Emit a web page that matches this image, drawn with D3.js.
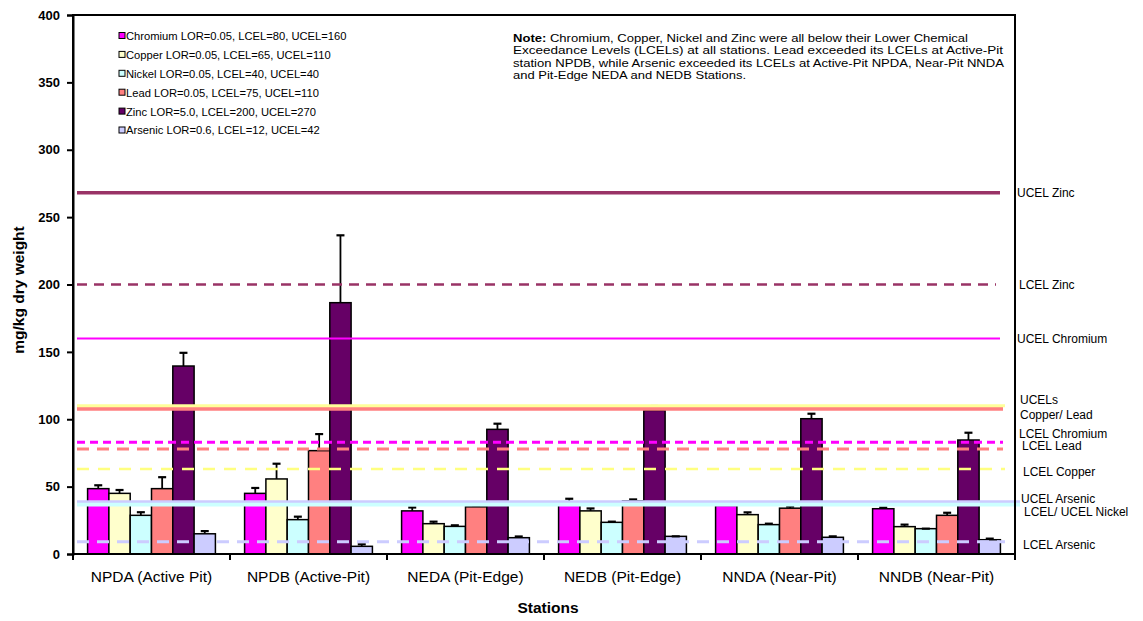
<!DOCTYPE html>
<html>
<head>
<meta charset="utf-8">
<script src="https://cdn.jsdelivr.net/npm/d3@7"></script>
<style>
  body { margin: 0; background: #fff; }
  text { font-family: Arial, 'Liberation Sans', sans-serif; fill: #000; }
</style>
</head>
<body>
<div class="chart-node"></div>
<script>
const width = 1143, height = 621

// data
const stations = ['NPDA (Active Pit)', 'NPDB (Active-Pit)', 'NEDA (Pit-Edge)', 'NEDB (Pit-Edge)', 'NNDA (Near-Pit)', 'NNDB (Near-Pit)']
const metals = ['Chromium', 'Copper', 'Nickel', 'Lead', 'Zinc', 'Arsenic']
const legendLabels = [
    'Chromium LOR=0.05, LCEL=80, UCEL=160',
    'Copper LOR=0.05, LCEL=65, UCEL=110',
    'Nickel LOR=0.05, LCEL=40, UCEL=40',
    'Lead LOR=0.05, LCEL=75, UCEL=110',
    'Zinc LOR=5.0, LCEL=200, UCEL=270',
    'Arsenic LOR=0.6, LCEL=12, UCEL=42'
]
const chromium = [48.5, 45, 32, 38, 36, 33.6]
const copper = [45, 55.7, 22.5, 32, 29.2, 20.3]
const nickel = [28.7, 25.5, 20.5, 23.5, 21.8, 18.8]
const lead = [48.5, 76.7, 35, 39.5, 34, 28.7]
const zinc = [139.5, 186.5, 92.5, 106.6, 100.4, 84.6]
const arsenic = [15, 5.7, 12.1, 13.1, 12.4, 10.6]
const chromiumErr = [2.5, 4, 2.5, 3, 1, 0.8]
const copperErr = [2.5, 11.3, 1.5, 1.8, 1.7, 1.5]
const nickelErr = [2.3, 2.2, 0.8, 0.5, 0.7, 0]
const leadErr = [8.5, 12.3, 0.7, 1, 1.2, 1.9]
const zincErr = [9.8, 50, 4.2, 3.2, 3.7, 5.4]
const arsenicErr = [2, 1.5, 0.9, 0, 0.7, 0.8]
const yTicks = [0, 50, 100, 150, 200, 250, 300, 350, 400]

// guideline levels (as drawn) and their right-hand labels
const guideNames = ['UCEL Zinc', 'LCEL Zinc', 'UCEL Chromium', 'UCEL Lead', 'UCEL Copper', 'LCEL Chromium', 'LCEL Lead', 'LCEL Copper', 'LCEL/UCEL Nickel', 'UCEL Arsenic', 'LCEL Arsenic']
const guideValues = [268, 200, 160, 107.8, 110, 83, 78, 63, 37, 39, 9]
const guideLabels = ['UCEL Zinc', 'LCEL Zinc', 'UCEL Chromium', 'UCELs', 'Copper/ Lead', 'LCEL Chromium', 'LCEL Lead', 'LCEL Copper', 'UCEL Arsenic', 'LCEL/ UCEL Nickel', 'LCEL Arsenic']
const guideLabelValues = [268, 200, 160, 114.5, 103.5, 89.5, 80, 61, 40.8, 31.2, 6.8]

const noteLines = [
    ['Note:', ' Chromium, Copper, Nickel and Zinc were all below their Lower Chemical'],
    ['', 'Exceedance Levels (LCELs) at all stations.  Lead exceeded its LCELs at Active-Pit'],
    ['', 'station NPDB, while Arsenic exceeded its LCELs at Active-Pit NPDA, Near-Pit NNDA'],
    ['', 'and Pit-Edge NEDA and NEDB Stations.']
]
const noteWidths = [455, 490, 491, 233]

const series = [chromium, copper, nickel, lead, zinc, arsenic]
const errors = [chromiumErr, copperErr, nickelErr, leadErr, zincErr, arsenicErr]
const colors = ['#FF00FF', '#FFFFCC', '#CCFFFF', '#FF8080', '#660066', '#CCCCFF']

const guideStyle = {
    'UCEL Zinc':        { color: '#993366', w: 3.5, dash: null, x2: 1000 },
    'LCEL Zinc':        { color: '#993366', w: 2.5, dash: '10,7', x2: 996 },
    'UCEL Chromium':    { color: '#FF00FF', w: 2, dash: null, x2: 1000 },
    'UCEL Lead':        { color: '#FF8080', w: 4, dash: null, x2: 1003 },
    'UCEL Copper':      { color: '#FFFF99', w: 3, dash: null, x2: 1005 },
    'LCEL Chromium':    { color: '#FF00FF', w: 3, dash: '8,5', x2: 1003 },
    'LCEL Lead':        { color: '#FF8080', w: 3, dash: '12,8', x2: 1003 },
    'LCEL Copper':      { color: '#FFFF80', w: 2.5, dash: '12,9', x2: 1005 },
    'LCEL/UCEL Nickel': { color: '#CCFFFF', w: 4.5, dash: null, x2: 1020 },
    'UCEL Arsenic':     { color: '#CCCCFF', w: 2.5, dash: null, x2: 1020 },
    'LCEL Arsenic':     { color: '#CCCCFF', w: 3, dash: '12,8', x2: 1005 }
}

const margin = { left: 73, right: 1015, top: 15, bottom: 554 }

const svg = d3.select('.chart-node').append('svg')
    .attr('width', width)
    .attr('height', height)

const x0 = d3.scaleBand()
    .domain(stations)
    .range([margin.left, margin.right])

const x1 = d3.scaleBand()
    .domain(metals)
    .range([0, x0.bandwidth()])
    .paddingOuter(0.685)

const y = d3.scaleLinear()
    .domain([0, 400])
    .range([margin.bottom, margin.top])

// bars
const groups = svg.append('g').attr('class', 'bars')
    .selectAll('g')
    .data(metals)
    .enter().append('g')

groups.selectAll('rect')
    .data((m, i) => series[i].map((v, j) => ({ metal: m, station: stations[j], value: v, err: errors[i][j], color: colors[i] })))
    .enter().append('rect')
    .attr('x', d => x0(d.station) + x1(d.metal))
    .attr('y', d => y(d.value))
    .attr('width', x1.bandwidth())
    .attr('height', d => y(0) - y(d.value))
    .style('fill', d => d.color)
    .style('stroke', '#000')
    .style('stroke-width', 1.5)

// error bars (upper only)
const errs = svg.append('g').attr('class', 'errors')
series.forEach((s, i) => {
    s.forEach((v, j) => {
        const cx = x0(stations[j]) + x1(metals[i]) + x1.bandwidth() / 2
        const top = y(v + errors[i][j])
        errs.append('line')
            .attr('x1', cx).attr('x2', cx)
            .attr('y1', y(v)).attr('y2', top)
            .style('stroke', '#000').style('stroke-width', 1.8)
        errs.append('line')
            .attr('x1', cx - 4).attr('x2', cx + 4)
            .attr('y1', top).attr('y2', top)
            .style('stroke', '#000').style('stroke-width', 2.2)
    })
})

// guideline levels, drawn over the bars
svg.append('g').attr('class', 'guides')
    .selectAll('line')
    .data(guideNames)
    .enter().append('line')
    .attr('x1', 77)
    .attr('x2', d => guideStyle[d].x2)
    .attr('y1', (d, i) => y(guideValues[i]))
    .attr('y2', (d, i) => y(guideValues[i]))
    .style('stroke', d => guideStyle[d].color)
    .style('stroke-width', d => guideStyle[d].w)
    .style('stroke-dasharray', d => guideStyle[d].dash)

// right-hand labels
svg.append('g').attr('class', 'guide-labels')
    .selectAll('text')
    .data(guideLabels)
    .enter().append('text')
    .attr('x', (d, i) => [1017, 1019, 1017, 1020, 1020, 1019, 1022, 1023, 1021, 1024, 1023][i])
    .attr('y', (d, i) => y(guideLabelValues[i]))
    .attr('dy', '0.35em')
    .style('font-size', '12px')
    .text(d => d)

// plot frame
svg.append('rect')
    .attr('x', margin.left)
    .attr('y', margin.top)
    .attr('width', margin.right - margin.left)
    .attr('height', margin.bottom - margin.top)
    .style('fill', 'none')
    .style('stroke', '#000')
    .style('stroke-width', 2)

// y axis
const yAxis = svg.append('g')
    .attr('transform', 'translate(' + margin.left + ',0)')
    .call(d3.axisLeft(y).tickValues(yTicks).tickSize(6).tickPadding(7))
yAxis.select('.domain').style('stroke-width', 2)
yAxis.selectAll('line').style('stroke-width', 2)
yAxis.selectAll('text')
    .style('font-size', '13px')
    .style('font-weight', 'bold')
    .style('font-family', "Arial, 'Liberation Sans', sans-serif")

// x axis ticks at category boundaries
const xAxis = svg.append('g')
    .attr('transform', 'translate(0,' + margin.bottom + ')')
xAxis.selectAll('line')
    .data(stations.concat(['end']))
    .enter().append('line')
    .attr('x1', (d, i) => margin.left + i * x0.step())
    .attr('x2', (d, i) => margin.left + i * x0.step())
    .attr('y1', 0).attr('y2', 6)
    .style('stroke', '#000').style('stroke-width', 2)
xAxis.selectAll('text')
    .data(stations)
    .enter().append('text')
    .attr('x', d => x0(d) + x0.bandwidth() / 2)
    .attr('y', 28)
    .style('text-anchor', 'middle')
    .style('font-size', '15.5px')
    .text(d => d)

// axis titles
svg.append('text')
    .attr('transform', 'translate(24,' + 290 + ') rotate(-90)')
    .style('text-anchor', 'middle')
    .style('font-size', '15.5px')
    .style('font-weight', 'bold')
    .text('mg/kg dry weight')

svg.append('text')
    .attr('x', 548)
    .attr('y', 613)
    .style('text-anchor', 'middle')
    .style('font-size', '15.5px')
    .style('font-weight', 'bold')
    .text('Stations')

// legend
const legend = svg.append('g').attr('class', 'legend')
    .selectAll('g')
    .data(legendLabels)
    .enter().append('g')
    .attr('transform', (d, i) => 'translate(119,' + (36 + i * 18.9) + ')')
legend.append('rect')
    .attr('x', 0).attr('y', -3.5)
    .attr('width', 6).attr('height', 6)
    .style('fill', (d, i) => colors[i])
    .style('stroke', '#000')
    .style('stroke-width', 1)
legend.append('text')
    .attr('x', 7)
    .attr('dy', '0.35em')
    .style('font-size', '11.2px')
    .text(d => d)

// note
const note = svg.append('g').attr('class', 'note')
noteLines.forEach((ln, i) => {
    const t = note.append('text')
        .attr('x', 513)
        .attr('y', 42 + i * 12.4)
        .attr('textLength', noteWidths[i])
        .attr('lengthAdjust', 'spacingAndGlyphs')
        .style('font-size', '11.5px')
    if (ln[0]) t.append('tspan').style('font-weight', 'bold').text(ln[0])
    t.append('tspan').text(ln[1])
})
</script>
</body>
</html>
